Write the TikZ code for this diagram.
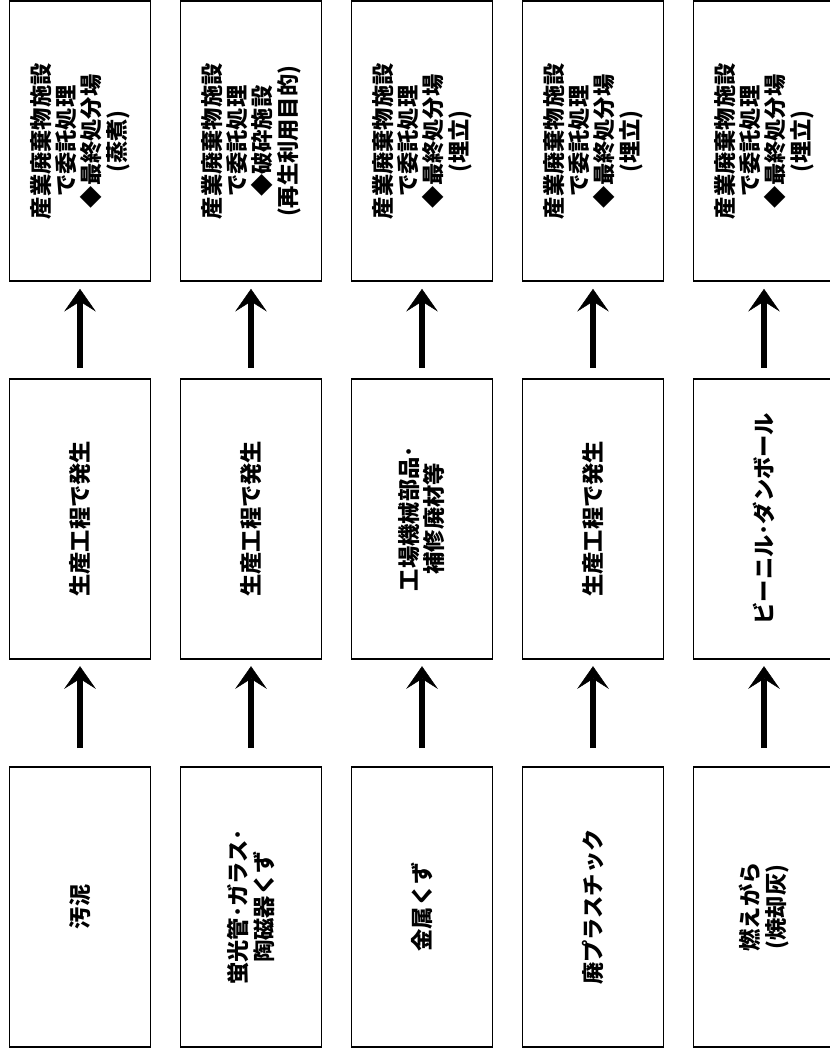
\documentclass[tikz,border=0pt]{standalone}
\usepackage{fontspec}
\newfontfamily\jpfont{Noto Sans CJK JP}
\usetikzlibrary{arrows.meta}

\begin{document}
\begin{tikzpicture}[
  x=1cm, y=1cm,
  every node/.style={inner sep=1pt},
  % one box per stage, text turned to read upwards
  box/.style={draw, line width=1.5pt, rotate=90, inner sep=0pt,
    minimum width=8.40cm, minimum height=4.23cm, align=center,
    font=\jpfont\bfseries\fontsize{19pt}{21.5pt}\selectfont},
  arrow/.style={draw, line width=5.5pt, shorten >=0.20cm,
    -{Stealth[length=0.68cm, width=0.95cm, inset=0.30cm, line width=0.4pt]}}]

  \useasboundingbox (0,0) rectangle (24.87,31.56);

  % top row: disposal
  \node[box] (top1) at (2.40,27.32)  {産業廃棄物施設\\で委託処理\\◆最終処分場\\(蒸煮)};
  \node[box] (top2) at (7.53,27.32)  {産業廃棄物施設\\で委託処理\\◆破砕施設\\(再生利用目的)};
  \node[box] (top3) at (12.66,27.32) {産業廃棄物施設\\で委託処理\\◆最終処分場\\(埋立)};
  \node[box] (top4) at (17.79,27.32) {産業廃棄物施設\\で委託処理\\◆最終処分場\\(埋立)};
  \node[box] (top5) at (22.92,27.32) {産業廃棄物施設\\で委託処理\\◆最終処分場\\(埋立)};

  % middle row: where it comes from
  \node[box] (mid1) at (2.40,16.00)  {生産工程で発生};
  \node[box] (mid2) at (7.53,16.00)  {生産工程で発生};
  \node[box] (mid3) at (12.66,16.00) {工場機械部品･\\補修廃材等};
  \node[box] (mid4) at (17.79,16.00) {生産工程で発生};
  \node[box] (mid5) at (22.92,16.00) {ビーニル･ダンボール};

  % bottom row: kind of waste
  \node[box] (bot1) at (2.40,4.35)  {汚泥};
  \node[box] (bot2) at (7.53,4.35)  {蛍光管･ガラス･\\陶磁器くず};
  \node[box] (bot3) at (12.66,4.35) {金属くず};
  \node[box] (bot4) at (17.79,4.35) {廃プラスチック};
  \node[box] (bot5) at (22.92,4.35) {燃えがら\\(焼却灰)};

  % arrows
  \draw[arrow, shorten <=0.30cm] (mid1) -- (top1);
  \draw[arrow, shorten <=0.30cm] (mid2) -- (top2);
  \draw[arrow, shorten <=0.30cm] (mid3) -- (top3);
  \draw[arrow, shorten <=0.30cm] (mid4) -- (top4);
  \draw[arrow, shorten <=0.30cm] (mid5) -- (top5);
  \draw[arrow, shorten <=0.54cm] (bot1) -- (mid1);
  \draw[arrow, shorten <=0.54cm] (bot2) -- (mid2);
  \draw[arrow, shorten <=0.54cm] (bot3) -- (mid3);
  \draw[arrow, shorten <=0.54cm] (bot4) -- (mid4);
  \draw[arrow, shorten <=0.54cm] (bot5) -- (mid5);
\end{tikzpicture}
\end{document}
